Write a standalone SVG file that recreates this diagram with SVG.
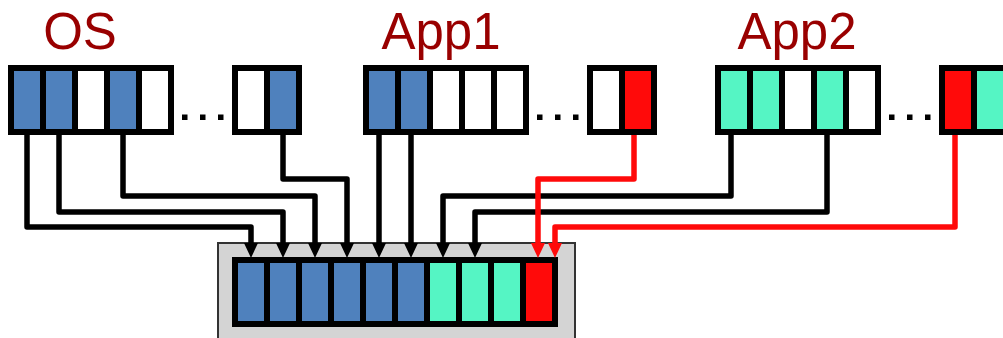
<svg xmlns="http://www.w3.org/2000/svg" width="1003" height="338" viewBox="0 0 1003 338">
<style>
.lbl{font-family:"Liberation Sans",Arial,sans-serif;font-size:51px;fill:#990000;text-anchor:middle}
.frame{fill:#000}
.b{fill:#4f81bd}
.t{fill:#55f5c4}
.r{fill:#ff0a0a}
.w{fill:#fff}
.dot{fill:#000}
.c{fill:none;stroke:#000;stroke-width:5.5;stroke-linejoin:round}
.cr{fill:none;stroke:#ff0a0a;stroke-width:5.5;stroke-linejoin:round}
</style>
<defs>
<marker id="ab" markerUnits="userSpaceOnUse" markerWidth="16" markerHeight="16" refX="0" refY="7" orient="auto" viewBox="0 0 16 14">
<path d="M0,0 L15,7 L0,14 z" fill="#000"/>
</marker>
<marker id="ar" markerUnits="userSpaceOnUse" markerWidth="16" markerHeight="16" refX="0" refY="7" orient="auto" viewBox="0 0 16 14">
<path d="M0,0 L15,7 L0,14 z" fill="#ff0a0a"/>
</marker>
</defs>
<rect width="1003" height="338" fill="#fff"/>

<g id="label-os"><text class="lbl" x="80" y="49">OS</text></g>
<g id="label-app1"><text class="lbl" x="441" y="49">App1</text></g>
<g id="label-app2"><text class="lbl" x="797" y="49">App2</text></g>

<g id="os-table">
<rect class="frame" x="8" y="65" width="166" height="70"/>
<rect class="b" x="14" y="71" width="26" height="58"/>
<rect class="b" x="46" y="71" width="26" height="58"/>
<rect class="w" x="78" y="71" width="26" height="58"/>
<rect class="b" x="110" y="71" width="26" height="58"/>
<rect class="w" x="142" y="71" width="26" height="58"/>
<rect class="dot" x="182" y="114.5" width="5.5" height="5.5"/>
<rect class="dot" x="200" y="114.5" width="5.5" height="5.5"/>
<rect class="dot" x="218" y="114.5" width="5.5" height="5.5"/>
<rect class="frame" x="232" y="65" width="70" height="70"/>
<rect class="w" x="238" y="71" width="26" height="58"/>
<rect class="b" x="270" y="71" width="26" height="58"/>
</g>

<g id="app1-table">
<rect class="frame" x="363" y="65" width="166" height="70"/>
<rect class="b" x="369" y="71" width="26" height="58"/>
<rect class="b" x="401" y="71" width="26" height="58"/>
<rect class="w" x="433" y="71" width="26" height="58"/>
<rect class="w" x="465" y="71" width="26" height="58"/>
<rect class="w" x="497" y="71" width="26" height="58"/>
<rect class="dot" x="537" y="114.5" width="5.5" height="5.5"/>
<rect class="dot" x="555" y="114.5" width="5.5" height="5.5"/>
<rect class="dot" x="573" y="114.5" width="5.5" height="5.5"/>
<rect class="frame" x="587" y="65" width="70" height="70"/>
<rect class="w" x="593" y="71" width="26" height="58"/>
<rect class="r" x="625" y="71" width="26" height="58"/>
</g>

<g id="app2-table">
<rect class="frame" x="715" y="65" width="166" height="70"/>
<rect class="t" x="721" y="71" width="26" height="58"/>
<rect class="t" x="753" y="71" width="26" height="58"/>
<rect class="w" x="785" y="71" width="26" height="58"/>
<rect class="t" x="817" y="71" width="26" height="58"/>
<rect class="w" x="849" y="71" width="26" height="58"/>
<rect class="dot" x="889" y="114.5" width="5.5" height="5.5"/>
<rect class="dot" x="907" y="114.5" width="5.5" height="5.5"/>
<rect class="dot" x="925" y="114.5" width="5.5" height="5.5"/>
<rect class="frame" x="939" y="65" width="70" height="70"/>
<rect class="r" x="945" y="71" width="26" height="58"/>
<rect class="t" x="977" y="71" width="26" height="58"/>
</g>

<g id="physical-memory">
<rect x="218" y="243" width="357" height="100" fill="#d4d4d4" stroke="#333" stroke-width="2"/>
<rect class="frame" x="232" y="257" width="326" height="70"/>
<rect class="b" x="238" y="263" width="26" height="58"/>
<rect class="b" x="270" y="263" width="26" height="58"/>
<rect class="b" x="302" y="263" width="26" height="58"/>
<rect class="b" x="334" y="263" width="26" height="58"/>
<rect class="b" x="366" y="263" width="26" height="58"/>
<rect class="b" x="398" y="263" width="26" height="58"/>
<rect class="t" x="430" y="263" width="26" height="58"/>
<rect class="t" x="462" y="263" width="26" height="58"/>
<rect class="t" x="494" y="263" width="26" height="58"/>
<rect class="r" x="526" y="263" width="26" height="58"/>
</g>

<g id="connectors">
<path class="c" marker-end="url(#ab)" d="M27,135 V227 H251 V243"/>
<path class="c" marker-end="url(#ab)" d="M59,135 V212 H283 V243"/>
<path class="c" marker-end="url(#ab)" d="M123,135 V196 H315 V243"/>
<path class="c" marker-end="url(#ab)" d="M283,135 V179 H347 V243"/>
<path class="c" marker-end="url(#ab)" d="M379,135 V243"/>
<path class="c" marker-end="url(#ab)" d="M411,135 V243"/>
<path class="c" marker-end="url(#ab)" d="M731,135 V196 H443 V243"/>
<path class="c" marker-end="url(#ab)" d="M827,135 V212 H475 V243"/>
<path class="cr" marker-end="url(#ar)" d="M634,135 V179 H538 V243"/>
<path class="cr" marker-end="url(#ar)" d="M955,135 V227 H555 V243"/>
</g>
</svg>
